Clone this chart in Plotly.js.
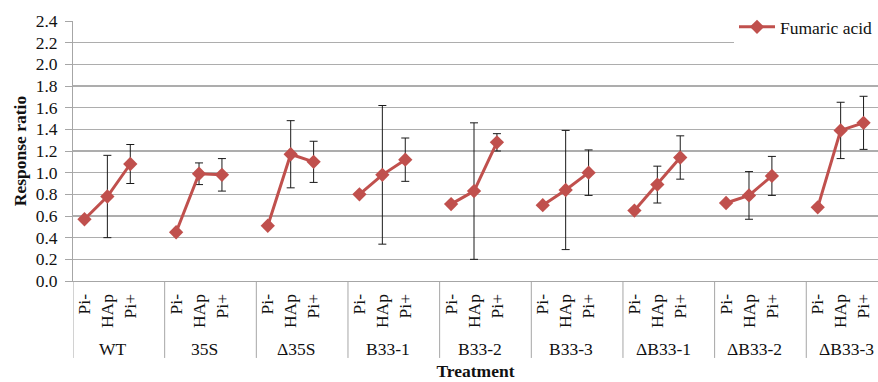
<!DOCTYPE html>
<html>
<head>
<meta charset="utf-8">
<script src="https://cdn.plot.ly/plotly-3.0.1.min.js"></script>
<style>html,body{margin:0;padding:0;background:#fff;}#chart{width:878px;height:382px;}</style>
</head>
<body>
<div id="chart"></div>
<script>
// ---- data ----
const groups = ["WT", "35S", "\u039435S", "B33-1", "B33-2", "B33-3", "\u0394B33-1", "\u0394B33-2", "\u0394B33-3"];
const subLabels = ["Pi-", "HAp", "Pi+"];
const piMinus = [0.57, 0.45, 0.51, 0.80, 0.71, 0.70, 0.65, 0.72, 0.68];
const hap     = [0.78, 0.99, 1.17, 0.98, 0.83, 0.84, 0.89, 0.79, 1.39];
const hapErr  = [0.38, 0.10, 0.31, 0.64, 0.63, 0.55, 0.17, 0.22, 0.26];
const piPlus  = [1.08, 0.98, 1.10, 1.12, 1.28, 1.00, 1.14, 0.97, 1.46];
const piPlusErr = [0.18, 0.15, 0.19, 0.20, 0.08, 0.21, 0.20, 0.18, 0.245];
const seriesName = "Fumaric acid";

// ---- build trace: 4 slots per group, 4th slot empty (breaks the line) ----
const SLOTS = 4;
const xs = [], ys = [], es = [], tickvals = [], ticktext = [];
groups.forEach((g, i) => {
  const vals = [piMinus[i], hap[i], piPlus[i]];
  const errs = [0, hapErr[i], piPlusErr[i]];
  for (let k = 0; k < 3; k++) {
    xs.push(i * SLOTS + k); ys.push(vals[k]); es.push(errs[k]);
    tickvals.push(i * SLOTS + k); ticktext.push(subLabels[k]);
  }
  xs.push(i * SLOTS + 3); ys.push(null); es.push(null);
});

const red = "#C0504D";
const font = "Times New Roman, Liberation Serif, Tinos, serif";
const FS = 17.5;

const trace = {
  x: xs, y: ys, type: "scatter", mode: "lines+markers", name: seriesName,
  connectgaps: false,
  line: {color: red, width: 3},
  marker: {symbol: "diamond", size: 11, color: red},
  error_y: {type: "data", array: es, visible: true, color: "#1a1a1a", thickness: 1, width: 4},
  showlegend: true
};

const shapes = [];
const annotations = [];
const nG = groups.length;
for (let i = 0; i <= nG; i++) {
  shapes.push({type: "line", xref: "x", yref: "paper", x0: i * SLOTS - 0.5, x1: i * SLOTS - 0.5,
    y0: 0, y1: -0.296, line: {color: "#a6a6a6", width: 1}});
}
groups.forEach((g, i) => {
  annotations.push({xref: "x", yref: "paper", x: i * SLOTS + 1.25, y: -0.263, text: g,
    showarrow: false, xanchor: "center", yanchor: "middle", font: {family: font, size: FS, color: "#111"}});
});

const layout = {
  width: 878, height: 382,
  margin: {l: 73, r: 0, t: 21, b: 101},
  paper_bgcolor: "#fff", plot_bgcolor: "#fff",
  font: {family: font, size: FS, color: "#111"},
  showlegend: true,
  legend: {x: 1, xanchor: "right", y: 0.977, yanchor: "middle", bgcolor: "#fff",
    font: {family: font, size: FS, color: "#111"}, itemwidth: 36},
  xaxis: {
    range: [-0.5, 34.63], showgrid: false, zeroline: false,
    tickmode: "array", tickvals: tickvals, ticktext: ticktext, tickangle: -90,
    ticks: "", showline: true, linecolor: "#a6a6a6", linewidth: 1,
    ticklabelstandoff: 5,
    tickfont: {family: font, size: FS, color: "#111"},
    title: {text: "<b>Treatment</b>", font: {family: font, size: FS, color: "#111"}, standoff: 37}
  },
  yaxis: {
    range: [0, 2.4], dtick: 0.2, tickformat: ".1f",
    showgrid: true, gridcolor: "#adadad", gridwidth: 1.5, zeroline: false,
    showline: true, linecolor: "#a6a6a6", linewidth: 1,
    ticks: "outside", ticklen: 7, tickcolor: "#a6a6a6", ticklabelstandoff: 4,
    tickfont: {family: font, size: FS, color: "#111"},
    title: {text: "<b>Response ratio</b>", font: {family: font, size: FS, color: "#111"}, standoff: 4}
  },
  shapes: shapes, annotations: annotations
};

Plotly.newPlot("chart", [trace], layout, {displayModeBar: false, staticPlot: true});
</script>
</body>
</html>
